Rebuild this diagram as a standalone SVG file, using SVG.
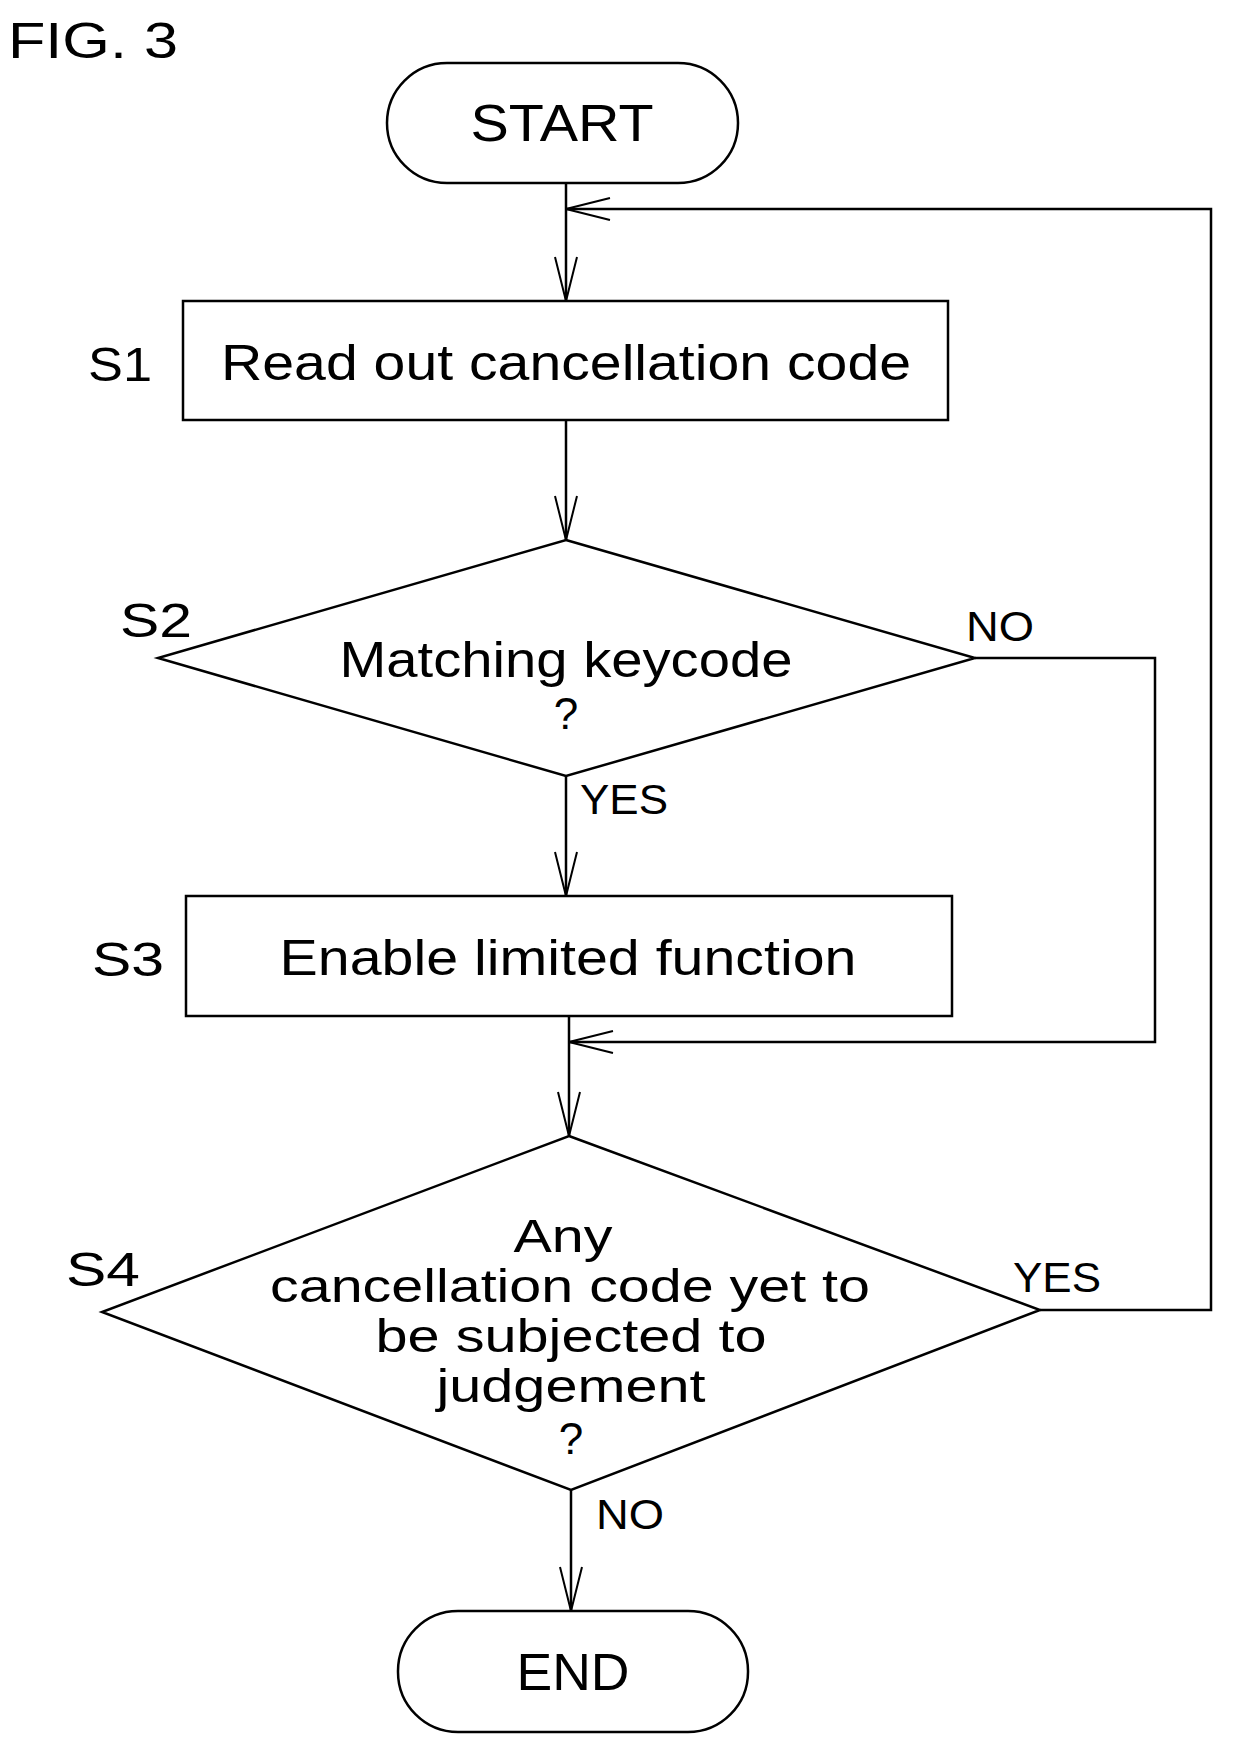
<svg xmlns="http://www.w3.org/2000/svg" width="1233" height="1743" viewBox="0 0 1233 1743">
<style>
.s{fill:none;stroke:#000;stroke-width:2.5}
.t{font-family:"Liberation Sans",Arial,sans-serif;fill:#000;text-anchor:middle}
.l{font-family:"Liberation Sans",Arial,sans-serif;fill:#000}
</style>
<defs>
<marker id="a" markerUnits="userSpaceOnUse" markerWidth="50" markerHeight="30" refX="46" refY="12" orient="auto">
<polyline points="2,1 46,12 2,23" fill="none" stroke="#000" stroke-width="2"/>
</marker>
</defs>
<rect width="1233" height="1743" fill="#fff"/>
<text class="l" x="8" y="58" font-size="50" textLength="170" lengthAdjust="spacingAndGlyphs">FIG. 3</text>
<g id="start"><rect class="s" x="387" y="63" width="351" height="120" rx="60"/><text class="t" x="562" y="141" font-size="52" textLength="183" lengthAdjust="spacingAndGlyphs">START</text></g>
<g id="s1"><rect class="s" x="183" y="301" width="765" height="119"/><text class="t" x="566" y="380" font-size="50" textLength="690" lengthAdjust="spacingAndGlyphs">Read out cancellation code</text><text class="l" x="88" y="381" font-size="48" textLength="64" lengthAdjust="spacingAndGlyphs">S1</text></g>
<g id="s2"><polygon class="s" points="566,540 975,658 566,776 158,658"/><text class="t" x="566" y="677" font-size="50" textLength="453" lengthAdjust="spacingAndGlyphs">Matching keycode</text><text class="t" x="566" y="729" font-size="44">?</text><text class="l" x="120" y="637" font-size="48" textLength="72" lengthAdjust="spacingAndGlyphs">S2</text></g>
<g id="s3"><rect class="s" x="186" y="896" width="766" height="120"/><text class="t" x="568" y="975" font-size="50" textLength="577" lengthAdjust="spacingAndGlyphs">Enable limited function</text><text class="l" x="92" y="976" font-size="48" textLength="72" lengthAdjust="spacingAndGlyphs">S3</text></g>
<g id="s4"><polygon class="s" points="569,1136 1040,1310 571,1490 102,1312"/>
<text class="t" x="563" y="1252" font-size="46" textLength="99" lengthAdjust="spacingAndGlyphs">Any</text>
<text class="t" x="570" y="1302" font-size="46" textLength="600" lengthAdjust="spacingAndGlyphs">cancellation code yet to</text>
<text class="t" x="571" y="1352" font-size="46" textLength="391" lengthAdjust="spacingAndGlyphs">be subjected to</text>
<text class="t" x="571" y="1402" font-size="46" textLength="269" lengthAdjust="spacingAndGlyphs">judgement</text>
<text class="t" x="571" y="1454" font-size="44">?</text>
<text class="l" x="66" y="1286" font-size="48" textLength="74" lengthAdjust="spacingAndGlyphs">S4</text></g>
<g id="end"><rect class="s" x="398" y="1611" width="350" height="121" rx="60"/><text class="t" x="573" y="1690" font-size="52" textLength="113" lengthAdjust="spacingAndGlyphs">END</text></g>
<g id="connectors">
<line class="s" x1="566" y1="183" x2="566" y2="301" marker-end="url(#a)"/>
<polyline class="s" points="1040,1310 1211,1310 1211,209 566,209" marker-end="url(#a)"/>
<line class="s" x1="566" y1="420" x2="566" y2="540" marker-end="url(#a)"/>
<line class="s" x1="566" y1="776" x2="566" y2="896" marker-end="url(#a)"/>
<polyline class="s" points="975,658 1155,658 1155,1042 569,1042" marker-end="url(#a)"/>
<line class="s" x1="569" y1="1016" x2="569" y2="1136" marker-end="url(#a)"/>
<line class="s" x1="571" y1="1490" x2="571" y2="1611" marker-end="url(#a)"/>
<text class="l" x="966" y="641" font-size="42" textLength="68" lengthAdjust="spacingAndGlyphs">NO</text>
<text class="l" x="580" y="814" font-size="42" textLength="88" lengthAdjust="spacingAndGlyphs">YES</text>
<text class="l" x="1013" y="1292" font-size="42" textLength="88" lengthAdjust="spacingAndGlyphs">YES</text>
<text class="l" x="596" y="1529" font-size="42" textLength="68" lengthAdjust="spacingAndGlyphs">NO</text>
</g>
</svg>
